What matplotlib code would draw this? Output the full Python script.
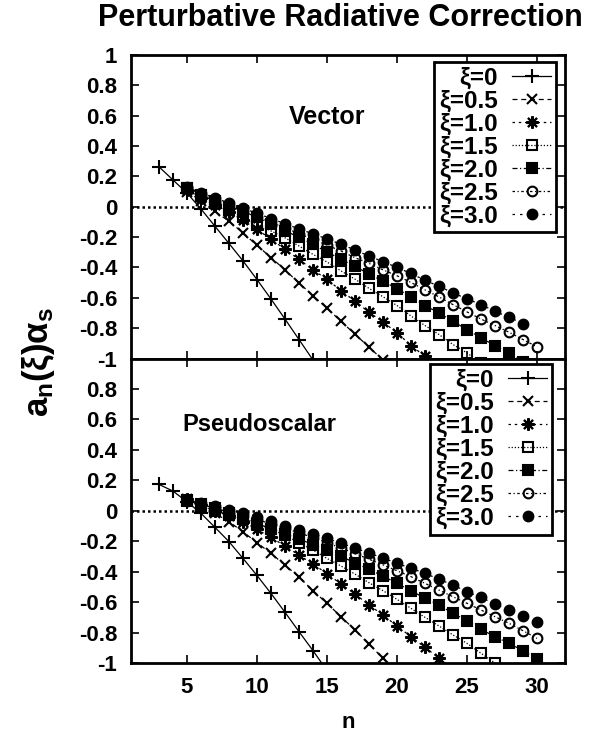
import numpy as np
import matplotlib
matplotlib.use("Agg")
import matplotlib.pyplot as plt

plt.rcParams['font.family'] = ['Liberation Sans', 'DejaVu Sans']
plt.rcParams['font.weight'] = 'bold'
plt.rcParams['mathtext.fontset'] = 'custom'
plt.rcParams['mathtext.rm'] = 'Liberation Sans:bold'
plt.rcParams['mathtext.it'] = 'Liberation Sans:bold'
plt.rcParams['mathtext.bf'] = 'Liberation Sans:bold'

# legend labels and first n of each curve
xi_labels = ["ξ=0", "ξ=0.5", "ξ=1.0", "ξ=1.5", "ξ=2.0", "ξ=2.5", "ξ=3.0"]
n_start = [3, 5, 5, 5, 5, 5, 5]
x_ticks = [5, 10, 15, 20, 25, 30]

# Vector channel, a_n(xi)*alpha_s
vec_xi00 = [0.263, 0.176, 0.09, -0.015, -0.129, -0.242, -0.357, -0.48, -0.608, -0.74, -0.875, -1.01]
vec_xi05 = [0.10, 0.04, -0.031, -0.096, -0.172, -0.255, -0.335, -0.416, -0.503, -0.586, -0.669,
            -0.755, -0.84, -0.925, -1.01]
vec_xi10 = [0.11, 0.06, 0.01, -0.035, -0.089, -0.150, -0.213, -0.281, -0.347, -0.416, -0.479,
            -0.553, -0.622, -0.695, -0.76, -0.83, -0.915, -0.985, -1.06]
vec_xi15 = [0.12, 0.07, 0.025, -0.02, -0.07, -0.118, -0.16, -0.205, -0.259, -0.314, -0.364, -0.423,
            -0.477, -0.538, -0.593, -0.651, -0.72, -0.783, -0.842, -0.908, -0.963, -1.03]
vec_xi20 = [0.125, 0.078, 0.035, -0.005, -0.03, -0.07, -0.113, -0.157, -0.202, -0.248, -0.298,
            -0.346, -0.392, -0.444, -0.49, -0.54, -0.594, -0.651, -0.70, -0.755, -0.81, -0.864,
            -0.915, -0.967, -1.02]
vec_xi25 = [0.125, 0.08, 0.04, 0.005, -0.03, -0.067, -0.103, -0.14, -0.177, -0.215, -0.253, -0.292,
            -0.336, -0.373, -0.416, -0.455, -0.499, -0.548, -0.594, -0.645, -0.693, -0.74, -0.783,
            -0.827, -0.875, -0.923]
vec_xi30 = [0.13, 0.09, 0.057, 0.024, -0.009, -0.044, -0.078, -0.112, -0.146, -0.179, -0.212,
            -0.248, -0.285, -0.325, -0.362, -0.40, -0.44, -0.485, -0.524, -0.568, -0.607, -0.645,
            -0.689, -0.728, -0.77]

# Pseudoscalar channel
ps_xi00 = [0.173, 0.129, 0.059, -0.017, -0.109, -0.203, -0.313, -0.425, -0.543, -0.667, -0.794,
           -0.919, -1.05]
ps_xi05 = [0.08, 0.035, -0.017, -0.072, -0.138, -0.21, -0.28, -0.357, -0.435, -0.525, -0.608,
           -0.696, -0.783, -0.875, -0.97, -1.07]
ps_xi10 = [0.075, 0.04, 0.0, -0.035, -0.072, -0.122, -0.175, -0.232, -0.291, -0.35, -0.413, -0.481,
           -0.547, -0.619, -0.685, -0.757, -0.827, -0.897, -0.969, -1.04]
ps_xi15 = [0.07, 0.045, 0.015, -0.015, -0.048, -0.085, -0.122, -0.16, -0.21, -0.258, -0.313,
           -0.363, -0.416, -0.473, -0.525, -0.582, -0.641, -0.70, -0.757, -0.816, -0.871, -0.936,
           -1.0]
ps_xi20 = [0.065, 0.03, 0.0, -0.027, -0.055, -0.085, -0.117, -0.15, -0.185, -0.222, -0.26, -0.30,
           -0.342, -0.385, -0.429, -0.477, -0.525, -0.575, -0.619, -0.674, -0.722, -0.779, -0.827,
           -0.871, -0.919, -0.974]
ps_xi25 = [0.066, 0.04, 0.016, -0.008, -0.032, -0.058, -0.086, -0.115, -0.145, -0.177, -0.21,
           -0.245, -0.281, -0.318, -0.356, -0.394, -0.433, -0.477, -0.521, -0.565, -0.608, -0.652,
           -0.696, -0.739, -0.788, -0.838]
ps_xi30 = [0.07, 0.053, 0.031, 0.005, -0.017, -0.04, -0.068, -0.097, -0.125, -0.153, -0.182,
           -0.213, -0.245, -0.278, -0.311, -0.345, -0.378, -0.411, -0.45, -0.488, -0.532, -0.569,
           -0.613, -0.652, -0.691, -0.729]

vector = [vec_xi00, vec_xi05, vec_xi10, vec_xi15, vec_xi20, vec_xi25, vec_xi30]
pseudo = [ps_xi00, ps_xi05, ps_xi10, ps_xi15, ps_xi20, ps_xi25, ps_xi30]

# gnuplot-like point and line types
markers = ['+', 'x', (8, 2, 0), 's', 's', 'o', 'o']
msizes = [9.5, 7.5, 9, 7, 7, 7, 7]
filled = [True, True, True, False, True, False, True]
dashes = ['-', (0, (4, 3)), (0, (2, 3)), (0, (1, 1.5)), (0, (4, 2, 1, 2)),
          (0, (2, 2, 1, 2)), (0, (2, 4))]

fig = plt.figure(figsize=(6.05, 7.36), dpi=100)
ax_top = fig.add_axes([0.2165, 0.5129, 0.7174, 0.4125])
ax_bot = fig.add_axes([0.2165, 0.0992, 0.7174, 0.4137])


def draw_panel(ax, data, name, name_xy, name_size, show_top_label, leg_anchor):
    ax.axhline(0, color='black', ls=(0, (1, 1.2)), lw=1.8, zorder=1)
    handles = []
    for i, vals in enumerate(data):
        n = np.arange(n_start[i], n_start[i] + len(vals))
        line, = ax.plot(n, vals, color='black', lw=0.9, ls=dashes[i],
                        marker=markers[i], ms=msizes[i], mew=1.5,
                        mfc='black' if filled[i] else 'none', mec='black', zorder=3)
        handles.append(line)
    ax.set_xlim(1, 32)
    ax.set_ylim(-1, 1)
    ax.set_xticks(x_ticks)
    yt = np.round(np.arange(-1, 1.01, 0.2), 1)
    ax.set_yticks(yt)
    labels = ['%g' % v for v in yt]
    labels = ['0' if l in ('-0', '0') else l for l in labels]
    if not show_top_label:
        labels[-1] = ''
    ax.set_yticklabels(labels)
    ax.tick_params(direction='in', length=6, width=1.2, top=True, right=True,
                   labelsize=16, pad=10)
    for s in ax.spines.values():
        s.set_linewidth(2.0)
    ax.text(name_xy[0], name_xy[1], name, transform=ax.transAxes,
            ha='center', va='center', fontsize=name_size, fontweight='bold')
    leg = ax.legend(handles, xi_labels, loc='upper right', bbox_to_anchor=leg_anchor,
                    markerfirst=False, fancybox=False, framealpha=1, edgecolor='black',
                    fontsize=17.5, labelspacing=0.0, handlelength=1.6, handletextpad=0.6,
                    borderpad=0.2, borderaxespad=0)
    leg.get_frame().set_linewidth(2.0)
    leg.set_zorder(5)


draw_panel(ax_top, vector, "Vector", (0.452, 0.797), 18, True, (0.979, 0.978))
draw_panel(ax_bot, pseudo, "Pseudoscalar", (0.295, 0.782), 17, False, (0.970, 0.982))
ax_top.tick_params(labelbottom=False)

fig.text(0.562, 0.9755, "Perturbative Radiative Correction", ha='center', va='center',
         fontsize=22, fontweight='bold')
fig.text(0.064, 0.508, r'$a_n(\xi)\alpha_s$', rotation=90, ha='center', va='center',
         fontsize=25)
fig.text(0.575, 0.019, "n", ha='center', va='center', fontsize=16, fontweight='bold')

fig.savefig("out.png", dpi=100)
